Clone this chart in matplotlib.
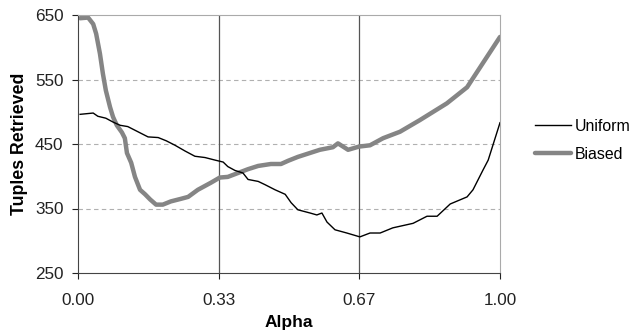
import matplotlib
matplotlib.use("Agg")
import matplotlib.pyplot as plt

plt.rcParams['font.family'] = ['Liberation Sans', 'DejaVu Sans']

# values
uniform_alpha = [0.005, 0.036, 0.047, 0.066, 0.083, 0.10, 0.118, 0.142, 0.166, 0.19,
                 0.209, 0.23, 0.254, 0.277, 0.301, 0.325, 0.344, 0.355, 0.372, 0.391,
                 0.403, 0.427, 0.443, 0.467, 0.491, 0.505, 0.521, 0.55, 0.566, 0.578,
                 0.59, 0.609, 0.637, 0.668, 0.692, 0.716, 0.746, 0.794, 0.827, 0.851,
                 0.882, 0.922, 0.936, 0.96, 0.972, 1.00]
uniform = [496, 498, 493, 490, 484, 479, 477, 469, 461, 460,
           455, 448, 439, 431, 429, 425, 422, 415, 409, 405,
           395, 392, 387, 379, 372, 359, 348, 343, 340, 343,
           329, 317, 312, 306, 312, 312, 320, 327, 338, 338,
           357, 368, 379, 410, 425, 483]

biased_alpha = [0.005, 0.024, 0.036, 0.043, 0.052, 0.059, 0.066, 0.076, 0.083, 0.092,
                0.104, 0.111, 0.116, 0.126, 0.135, 0.147, 0.159, 0.171, 0.185, 0.201,
                0.22, 0.244, 0.261, 0.284, 0.315, 0.336, 0.355, 0.379, 0.403, 0.427,
                0.457, 0.481, 0.498, 0.521, 0.573, 0.604, 0.616, 0.64, 0.666, 0.692,
                0.723, 0.763, 0.81, 0.874, 0.922, 0.953, 1.00]
biased = [645, 646, 636, 621, 590, 559, 533, 507, 492, 479,
          468, 459, 436, 421, 399, 379, 372, 364, 356, 356,
          361, 365, 368, 379, 390, 398, 399, 405, 411, 416,
          419, 419, 424, 430, 441, 445, 451, 441, 446, 448,
          459, 469, 487, 513, 538, 569, 616]

x_ticks = [0, 1/3, 2/3, 1]
x_tick_labels = ['0.00', '0.33', '0.67', '1.00']
y_ticks = [250, 350, 450, 550, 650]

fig = plt.figure(figsize=(6.38, 3.31), dpi=100)
ax = fig.add_axes([78 / 638, 58 / 331, 422 / 638, 258 / 331])

for y in [350, 450, 550]:
    ax.axhline(y, color='#b0b0b0', linestyle=(0, (4, 3)), linewidth=0.8, zorder=1)
for x in [1/3, 2/3]:
    ax.axvline(x, color='#555555', linewidth=0.9, zorder=1)

ax.plot(uniform_alpha, uniform, color='black', linewidth=1.0, label='Uniform', zorder=3)
ax.plot(biased_alpha, biased, color='#858585', linewidth=3.2, label='Biased', zorder=2,
        solid_capstyle='round', solid_joinstyle='round')

ax.set_xlim(0, 1)
ax.set_ylim(250, 650)
ax.set_xticks(x_ticks)
ax.set_xticklabels(x_tick_labels)
ax.set_yticks(y_ticks)
ax.tick_params(axis='both', labelsize=12.3, colors='#222222', length=4, width=0.8,
               direction='out')
ax.tick_params(axis='x', pad=10.5)
ax.tick_params(axis='y', pad=6.5)

for side in ['top', 'right']:
    ax.spines[side].set_color('#aaaaaa')
for side in ['left', 'bottom']:
    ax.spines[side].set_color('#444444')

ax.set_xlabel('Alpha', fontsize=12.5, fontweight='bold', labelpad=5)
ax.set_ylabel('Tuples Retrieved', fontsize=12.8, fontweight='bold', labelpad=5)

fig.legend(loc='upper left', bbox_to_anchor=(535 / 638, 1 - 119 / 331), frameon=False,
           fontsize=11.4, handlelength=2.3, handletextpad=0.2, labelspacing=0.8,
           borderpad=0, borderaxespad=0)

fig.savefig('out.png', dpi=100)
